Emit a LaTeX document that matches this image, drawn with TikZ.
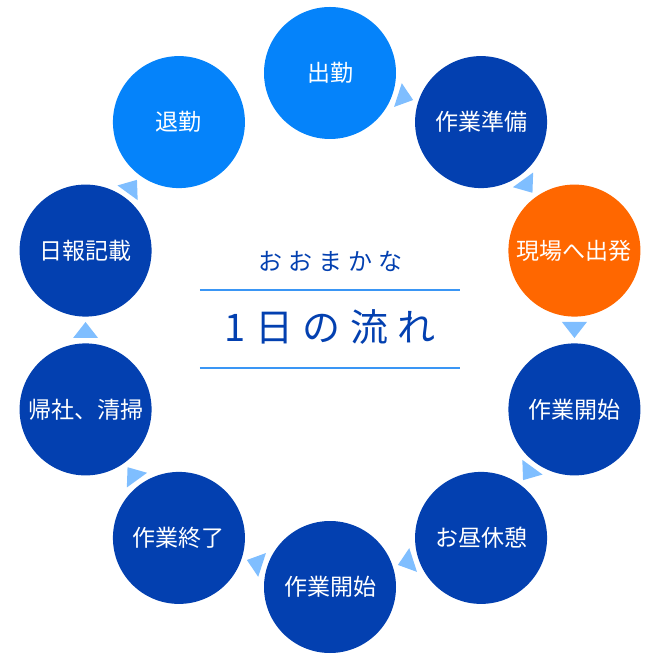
\documentclass[tikz,border=0pt]{standalone}
\usepackage{fontspec}
\usetikzlibrary{calc}
\newfontfamily\jp{Noto Sans CJK JP}
\newfontfamily\jpwide[LetterSpace=25]{Noto Sans CJK JP}
\definecolor{lightblue}{HTML}{0583FA}
\definecolor{darkblue}{HTML}{0340B0}
\definecolor{hotorange}{HTML}{FF6700}
\definecolor{tipblue}{HTML}{7FBEFF}
\definecolor{ruleblue}{HTML}{3A96F5}
\tikzset{
    stepcircle/.style={circle, fill=#1, minimum size=132pt, inner sep=0pt, text=white, font=\jp\fontsize{23}{23}\selectfont},
    tip/.style={fill=tipblue}
}
\begin{document}
\begin{tikzpicture}[x=1pt, y=1pt]
        \def\R{257}
        \useasboundingbox (-330, -330) rectangle (330, 330);
        \foreach \i/\txt/\col in {0/出勤/lightblue, 1/作業準備/darkblue, 2/現場へ出発/hotorange, 3/作業開始/darkblue, 4/お昼休憩/darkblue, 5/作業開始/darkblue, 6/作業終了/darkblue, 7/帰社、清掃/darkblue, 8/日報記載/darkblue, 9/退勤/lightblue}
            \node [stepcircle=\col] (c\i) at ({90-36*\i}:\R) {\txt};
        \foreach \i [evaluate=\i as \j using {int(\i+1)}] in {0,...,8}
            \fill [tip, shift={($(c\i)!0.5!(c\j)$)}, rotate={90-36*\i-108}] (8, 0) -- (-8, 12.5) -- (-8, -12.5) -- cycle;
        \node [text=darkblue, font=\jpwide\fontsize{24}{24}\selectfont] (sub) at (0, 69) {おおまかな};
        \node [text=darkblue, font=\jpwide\fontsize{38}{38}\selectfont] (title) at (0, 3) {1日の流れ};
        \draw [ruleblue, line width=1.5pt] (-130, 40) coordinate (tl) -- (130, 40) coordinate (tr);
        \draw [ruleblue, line width=1.5pt] (-130, -38) coordinate (bl) -- (130, -38) coordinate (br);
    \end{tikzpicture}
\end{document}
